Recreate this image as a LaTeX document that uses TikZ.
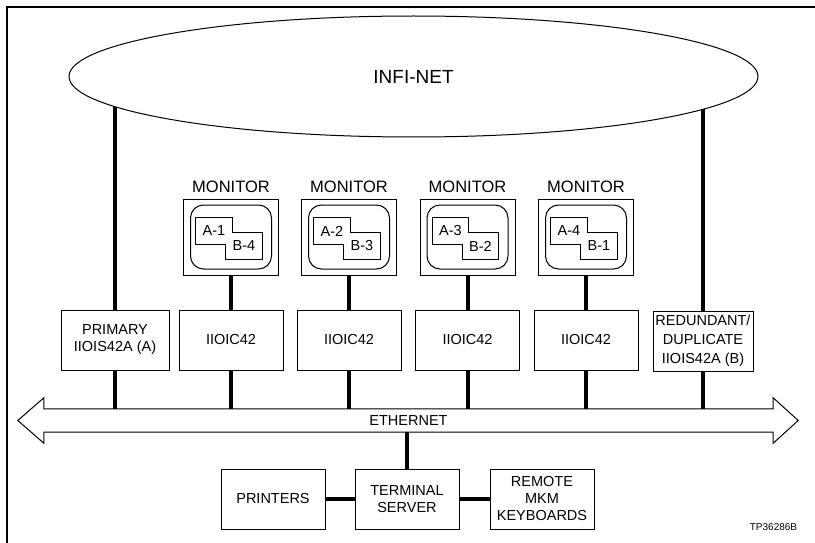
\documentclass[tikz,border=0pt]{standalone}
\usepackage{fontspec}
\setmainfont{Liberation Sans}
\usetikzlibrary{shapes.geometric,positioning}
\tikzset{
  unit/.style={draw, line width=1pt, fill=white, align=center, inner sep=0pt,
    minimum width=104pt, minimum height=60pt, font=\fontsize{14.5}{17}\selectfont},
  monbox/.style={draw, line width=1pt, minimum width=95pt, minimum height=76pt, inner sep=0pt},
  screen/.style={draw, line width=1pt, rounded corners=13pt, minimum width=81pt,
    minimum height=64pt, inner sep=0pt},
  chan/.style={fill=white, minimum width=36pt, minimum height=26pt, inner sep=0pt,
    font=\fontsize{14.5}{16}\selectfont},
  link/.style={line width=4pt},
}

\begin{document}
\begin{tikzpicture}[x=1pt, y=-1pt]
  \useasboundingbox (0,0) rectangle (815,543);
  \draw[line width=1.5pt] (7,543) -- (7,7) -- (815,7);
  \coordinate (inetc) at (413.5,76.5);
  % I/O modules
  \node[unit, minimum width=108pt] (prim) at (115,340) {PRIMARY\\IIOIS42A (A)};
  \foreach \i/\x in {1/231,2/349,3/467.5,4/586}
    \node[unit] (ioc\i) at (\x,340) {IIOIC42};
  \node[unit, minimum width=100pt, font=\fontsize{14.5}{19}\selectfont] (red) at (703,341)
    {REDUNDANT/\\DUPLICATE\\IIOIS42A (B)};
  % monitors
  \foreach \i/\x/\a/\b in {1/231/1/4,2/349/2/3,3/467.5/3/2,4/586/4/1} {
    \node[monbox] (mon\i) at (\x,237) {};
    \node[inner sep=0pt, font=\fontsize{16.5}{18}\selectfont, above=6pt of mon\i] (monl\i) {MONITOR};
    \node[screen] (scr\i) at (mon\i) {};
    \node[chan] (cha\i) at ({\x-17},231) {A-\a};
    \node[chan] (chb\i) at ({\x+13},246) {B-\b};
    \draw[line width=0.9pt] (cha\i.north west) -- (cha\i.north east) -- (cha\i.north east |- chb\i.north)
      -- (chb\i.north east) -- (chb\i.south east) -- (chb\i.south west)
      -- (chb\i.south west |- cha\i.south) -- (cha\i.south west) -- cycle;
    \draw[link] (mon\i.south) -- (ioc\i.north);
  }
  % ethernet bus
  \node[minimum width=729pt, minimum height=23pt, inner sep=0pt, font=\fontsize{14.5}{17}\selectfont]
    (ether) at (408.5,420.5) {ETHERNET};
  \draw[line width=1pt] (ether.north west) -- ([yshift=11pt]ether.north west) -- ([xshift=-26pt]ether.west)
    -- ([yshift=-11pt]ether.south west) -- (ether.south west) -- (ether.south east)
    -- ([yshift=-11pt]ether.south east) -- ([xshift=25pt]ether.east)
    -- ([yshift=11pt]ether.north east) -- (ether.north east) -- cycle;
  \foreach \n in {prim,ioc1,ioc2,ioc3,ioc4,red}
    \draw[link] (\n.south) -- (\n.south |- ether.north);
  % terminal server
  \node[unit] (term) at (407,499) {TERMINAL\\SERVER};
  \node[unit] (prn) at (273,499) {PRINTERS};
  \node[unit] (mkm) at (542,499) {REMOTE\\MKM\\KEYBOARDS};
  \draw[link] (ether.south -| term.north) -- (term.north);
  \draw[link, line width=3.5pt] (prn) -- (term);
  \draw[link, line width=3.5pt] (term) -- (mkm);
  % infi-net ring
  \draw[link] (prim.north) -- (prim.north |- inetc);
  \draw[link] (red.north) -- (red.north |- inetc);
  \node[ellipse, draw, line width=1pt, fill=white, minimum width=689pt, minimum height=121pt,
    inner sep=0pt, font=\fontsize{19}{21}\selectfont] (inet) at (inetc) {INFI-NET};
  \node[font=\fontsize{10}{12}\selectfont] (tpno) at (773.5,527) {TP36286B};
\end{tikzpicture}
\end{document}
